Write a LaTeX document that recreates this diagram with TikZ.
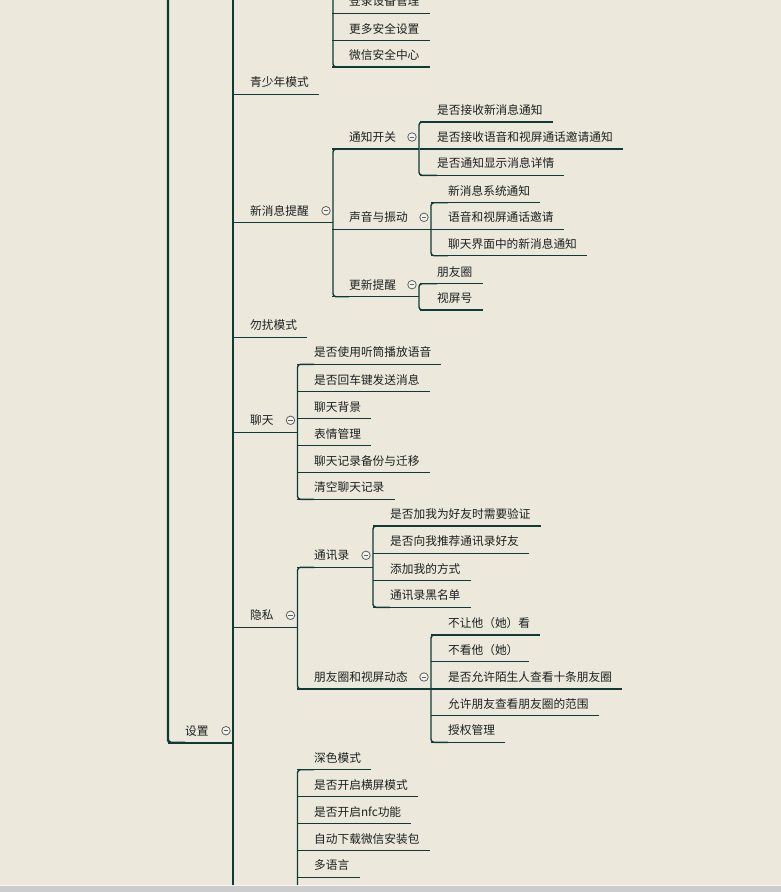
\documentclass[tikz,border=0pt]{standalone}
\usepackage{fontspec}
\newfontfamily\cjk{Noto Sans CJK SC}
\usepackage{xcolor}
\definecolor{paper}{RGB}{236,233,220}
\definecolor{branchline}{RGB}{16,58,54}
\definecolor{topictext}{RGB}{28,32,32}
\definecolor{foldline}{RGB}{95,95,95}
\definecolor{foldfill}{RGB}{242,242,238}
\definecolor{barfill}{RGB}{204,204,204}

\begin{document}
\begin{tikzpicture}[x=1pt, y=-1pt,
    topic/.style={anchor=south west, inner sep=0pt, text depth=7.5pt, text=topictext, font=\cjk\fontsize{11.7pt}{14pt}\selectfont},
    branch/.style={draw=branchline, line width=1.4pt},
    spine/.style={draw=branchline, line width=2.4pt},
    leaf/.style={topic, append after command={([xshift=-17pt]\tikzlastnode.south west) edge[branch] ([xshift=10pt]\tikzlastnode.south east)}},
    fold/.style={circle, draw=foldline, fill=foldfill, line width=0.8pt, minimum size=8.5pt, inner sep=0pt,
        path picture={\draw[foldline, line width=0.8pt] ([xshift=-2.4pt]path picture bounding box.center) -- ([xshift=2.4pt]path picture bounding box.center);}}]
    \useasboundingbox (0,0) rectangle (781,892);
    \fill[paper] (0,0) rectangle (781,892);

    \begin{scope}
    \clip (0,0) rectangle (781,886);

    % Root
    \coordinate (weixin-v) at (168,-20);
    \node[topic] (shezhi) at (185,742.7) {设置};
    \coordinate (shezhi-v) at (233,742.7);
    \coordinate (shezhi-top) at (233,-20);
    \coordinate (shezhi-bottom) at (233,905);

    % Account and security (parent above the page)
    \coordinate (zhanghao-v) at (333,-20);
    \node[leaf] (denglu) at (349,13.3) {登录设备管理};
    \node[leaf] (gengduo) at (349,40.7) {更多安全设置};
    \node[leaf] (zhongxin) at (349,67) {微信安全中心};

    % First level
    \node[leaf] (qingshao) at (250,94.3) {青少年模式};
    \node[topic] (xinxi) at (250,222.7) {新消息提醒};
    \coordinate (xinxi-v) at (333,222.7);
    \node[leaf] (wurao) at (250,337.3) {勿扰模式};
    \node[topic] (liaotian) at (250,432.3) {聊天};
    \coordinate (liaotian-v) at (297.5,432.3);
    \node[topic] (yinsi) at (250,627.3) {隐私};
    \coordinate (yinsi-v) at (297.5,627.3);

    % New message alerts
    \node[topic] (tongzhi) at (349,149) {通知开关};
    \coordinate (tongzhi-v) at (419,149);
    \node[topic] (shengyin) at (349,229.3) {声音与振动};
    \coordinate (shengyin-v) at (431,229.3);
    \node[topic] (gengxin) at (349,296.7) {更新提醒};
    \coordinate (gengxin-v) at (419,296.7);

    \node[leaf] (jieshou) at (437,122) {是否接收新消息通知};
    \node[leaf] (yuyin) at (437,149) {是否接收语音和视屏通话邀请通知};
    \node[leaf] (xiangqing) at (437,175.3) {是否通知显示消息详情};

    \node[leaf] (xitong) at (448,202.7) {新消息系统通知};
    \node[leaf] (yaoqing) at (448,229.3) {语音和视屏通话邀请};
    \node[leaf] (jiemian) at (448,255.7) {聊天界面中的新消息通知};

    \node[leaf] (pengyouquan) at (437,283.7) {朋友圈};
    \node[leaf] (shipinhao) at (437,310) {视屏号};

    % Chat
    \node[leaf] (tingtong) at (314,364.3) {是否使用听筒播放语音};
    \node[leaf] (huiche) at (314,391.7) {是否回车键发送消息};
    \node[leaf] (beijing) at (314,418.7) {聊天背景};
    \node[leaf] (biaoqing) at (314,445.7) {表情管理};
    \node[leaf] (beifen) at (314,472.7) {聊天记录备份与迁移};
    \node[leaf] (qingkong) at (314,499.3) {清空聊天记录};

    % Privacy
    \node[topic] (tongxun) at (314,567.3) {通讯录};
    \coordinate (tongxun-v) at (373,567.3);
    \node[topic] (dongtai) at (314,689) {朋友圈和视屏动态};
    \coordinate (dongtai-v) at (431,689);

    \node[leaf] (yanzheng) at (390,526) {是否加我为好友时需要验证};
    \node[leaf] (tuijian) at (390,553.3) {是否向我推荐通讯录好友};
    \node[leaf] (fangshi) at (390,580.7) {添加我的方式};
    \node[leaf] (heimingdan) at (390,607.3) {通讯录黑名单};

    \node[leaf] (burang) at (448,635) {不让他（她）看};
    \node[leaf] (bukan) at (448,661.7) {不看他（她）};
    \node[leaf] (moshengren) at (448,689) {是否允许陌生人查看十条朋友圈};
    \node[leaf] (fanwei) at (448,715.7) {允许朋友查看朋友圈的范围};
    \node[leaf] (shouquan) at (448,742.3) {授权管理};

    % General (parent below the page)
    \coordinate (tongyong-v) at (297.5,905);
    \node[leaf] (shense) at (314,769.7) {深色模式};
    \node[leaf] (hengping) at (314,796.7) {是否开启横屏模式};
    \node[leaf] (nfc) at (314,823.7) {是否开启nfc功能};
    \node[leaf] (anzhuang) at (314,850.7) {自动下载微信安装包};
    \node[leaf] (duoyuyan) at (314,877.3) {多语言};

    % Spine
    \draw[spine, rounded corners=3pt] (weixin-v) |- (shezhi.south west);
    \draw[spine] ([xshift=-17pt]shezhi.south west) -- (shezhi-v);
    \draw[spine] (shezhi-top) -- (shezhi-bottom);

    % Topic lines
    \draw[branch] ([xshift=-17pt]xinxi.south west) -- (xinxi-v);
    \draw[branch] ([xshift=-17pt]liaotian.south west) -- (liaotian-v);
    \draw[branch] ([xshift=-17pt]yinsi.south west) -- (yinsi-v);
    \draw[branch] ([xshift=-17pt]tongzhi.south west) -- (tongzhi-v);
    \draw[branch] ([xshift=-17pt]shengyin.south west) -- (shengyin-v);
    \draw[branch] ([xshift=-17pt]gengxin.south west) -- (gengxin-v);
    \draw[branch] ([xshift=-17pt]tongxun.south west) -- (tongxun-v);
    \draw[branch] ([xshift=-17pt]dongtai.south west) -- (dongtai-v);

    % Brackets
    \draw[branch, rounded corners=3pt] (zhanghao-v) |- (zhongxin.south west);
    \draw[branch, rounded corners=3pt] (tongzhi.south west) -| (xinxi-v) |- (gengxin.south west);
    \draw[branch, rounded corners=3pt] (jieshou.south west) -| (tongzhi-v) |- (xiangqing.south west);
    \draw[branch, rounded corners=3pt] (xitong.south west) -| (shengyin-v) |- (jiemian.south west);
    \draw[branch, rounded corners=3pt] (pengyouquan.south west) -| (gengxin-v) |- (shipinhao.south west);
    \draw[branch, rounded corners=3pt] (tingtong.south west) -| (liaotian-v) |- (qingkong.south west);
    \draw[branch, rounded corners=3pt] (tongxun.south west) -| (yinsi-v) |- (dongtai.south west);
    \draw[branch, rounded corners=3pt] (yanzheng.south west) -| (tongxun-v) |- (heimingdan.south west);
    \draw[branch, rounded corners=3pt] (burang.south west) -| (dongtai-v) |- (shouquan.south west);
    \draw[branch, rounded corners=3pt] (shense.south west) -| (tongyong-v);

    % Fold markers
    \node[fold] (shezhi-f) at ([shift={(-7,-12)}]shezhi-v) {};
    \node[fold] (xinxi-f) at ([shift={(-7,-12)}]xinxi-v) {};
    \node[fold] (liaotian-f) at ([shift={(-7,-12)}]liaotian-v) {};
    \node[fold] (yinsi-f) at ([shift={(-7,-12)}]yinsi-v) {};
    \node[fold] (tongzhi-f) at ([shift={(-7,-12)}]tongzhi-v) {};
    \node[fold] (shengyin-f) at ([shift={(-7,-12)}]shengyin-v) {};
    \node[fold] (gengxin-f) at ([shift={(-7,-12)}]gengxin-v) {};
    \node[fold] (tongxun-f) at ([shift={(-7,-12)}]tongxun-v) {};
    \node[fold] (dongtai-f) at ([shift={(-7,-12)}]dongtai-v) {};
    \end{scope}

    % Window edge
    \fill[white!60!paper] (0,885.3) rectangle (781,886.3);
    \fill[barfill] (0,886.3) rectangle (781,892);
\end{tikzpicture}
\end{document}
